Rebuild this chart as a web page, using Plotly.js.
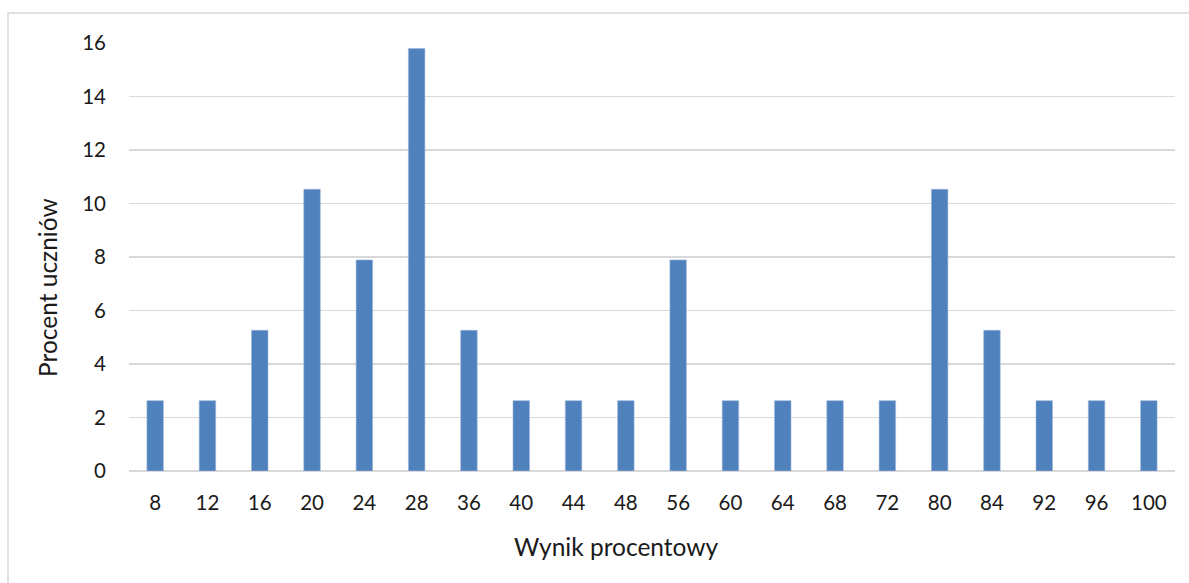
<!DOCTYPE html>
<html>
<head>
<meta charset="utf-8">
<script src="https://cdn.plot.ly/plotly-3.0.1.min.js"></script>
<style>
html,body{margin:0;padding:0;background:#fff;}
#chart{width:1189px;height:583px;}
</style>
</head>
<body>
<div id="chart"></div>
<script>
// Data
const categories = ["8","12","16","20","24","28","36","40","44","48","56","60","64","68","72","80","84","92","96","100"];
const percentValues = [2.63,2.63,5.26,10.53,7.89,15.79,5.26,2.63,2.63,2.63,7.89,2.63,2.63,2.63,2.63,10.53,5.26,2.63,2.63,2.63];
const yTickValues = [0,2,4,6,8,10,12,14,16];
const xTitle = "Wynik procentowy";
const yTitle = "Procent uczniów";

const W = 1189, H = 583;
const L = 129, R = 14, T = 43, B = 112;
const pw = W - L - R, ph = H - T - B;
const px = p => (p - L) / pw;
const py = p => (H - B - p) / ph;

const font = "Lato, 'Open Sans', sans-serif";

const trace = {
  type: "bar",
  x: categories,
  y: percentValues,
  marker: {color: "#4f81bd", line: {color: "#9bb5da", width: 0.6}},
  hoverinfo: "x+y"
};

const layout = {
  width: W, height: H,
  margin: {l: L, r: R, t: T, b: B, pad: 0},
  paper_bgcolor: "#fff",
  plot_bgcolor: "#fff",
  bargap: 0.685,
  showlegend: false,
  font: {family: font, color: "#1a1a1a", size: 20},
  xaxis: {
    type: "category",
    tickvals: categories,
    ticktext: categories,
    showgrid: false,
    showline: false,
    zeroline: false,
    ticks: "",
    ticklabelstandoff: 17,
    tickfont: {family: font, size: 20.5, color: "#1a1a1a"}
  },
  yaxis: {
    range: [0, 16],
    tickvals: yTickValues,
    ticktext: yTickValues.map(String),
    showgrid: true,
    gridcolor: "#d9d9d9",
    gridwidth: 1.5,
    zeroline: true,
    zerolinecolor: "#d9d9d9",
    zerolinewidth: 1.5,
    showline: false,
    ticks: "",
    ticklabelstandoff: 22,
    tickfont: {family: font, size: 20.5, color: "#1a1a1a"}
  },
  shapes: [{
    type: "rect", xref: "paper", yref: "paper",
    x0: px(8), x1: px(1200), y0: py(600), y1: py(13),
    line: {color: "#d9d9d9", width: 1.5},
    fillcolor: "rgba(0,0,0,0)",
    layer: "below"
  }],
  annotations: [
    {text: xTitle, xref: "paper", yref: "paper", x: px(616), y: py(546),
     xanchor: "center", yanchor: "middle", showarrow: false,
     font: {family: font, size: 24.5, color: "#1a1a1a"}},
    {text: yTitle, xref: "paper", yref: "paper", x: px(47), y: py(288),
     xanchor: "center", yanchor: "middle", showarrow: false, textangle: -90,
     font: {family: font, size: 24.5, color: "#1a1a1a"}}
  ]
};

Plotly.newPlot("chart", [trace], layout, {displayModeBar: false, staticPlot: true});
</script>
</body>
</html>
